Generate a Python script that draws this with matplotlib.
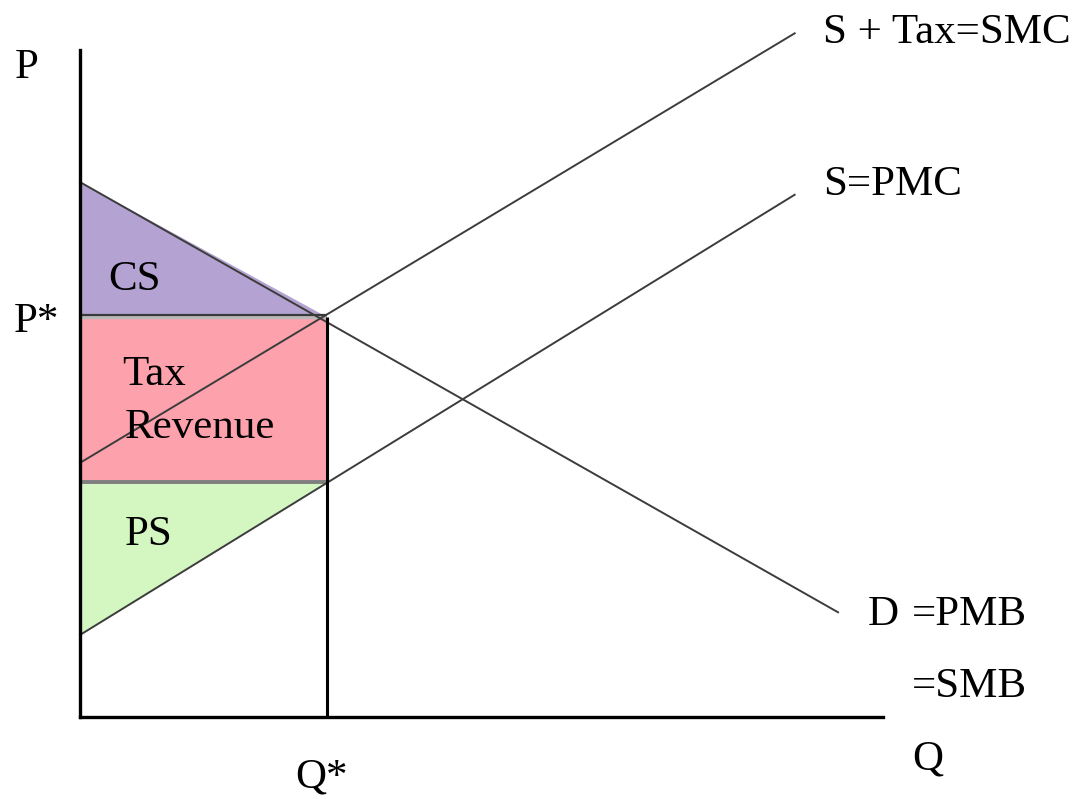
import matplotlib.pyplot as plt
from matplotlib.patches import Polygon

# Market with a per-unit tax: demand, private and social marginal cost
DEMAND_Q = [0.0, 9.44]
DEMAND_P = [8.02, 1.57]
SMC_Q = [0.0, 8.90]
SMC_P = [3.81, 10.25]
PMC_Q = [0.0, 8.90]
PMC_P = [1.23, 7.83]

Q_STAR = 3.07
P_STAR = 6.0
P_SELLER = 3.52

CS_COLOR = "#b4a3d2"
TAX_COLOR = "#fda2ad"
PS_COLOR = "#d4f7c1"
CURVE_COLOR = "#3c3c3c"

plt.rcParams["font.family"] = ["Liberation Serif", "DejaVu Serif"]

fig = plt.figure(figsize=(10.89, 7.99), dpi=100)
ax = fig.add_axes([80 / 1089, 82 / 799, 803 / 1089, 667 / 799])
ax.set_xlim(0, 10)
ax.set_ylim(0, 10)

# shaded surplus areas
ax.add_patch(Polygon([(0, DEMAND_P[0]), (Q_STAR, P_STAR), (0, P_STAR)],
                     closed=True, facecolor=CS_COLOR, edgecolor="none", zorder=1))
ax.add_patch(Polygon([(0, P_SELLER), (Q_STAR, P_SELLER), (Q_STAR, P_STAR), (0, P_STAR)],
                     closed=True, facecolor=TAX_COLOR, edgecolor="none", zorder=1))
ax.add_patch(Polygon([(0, PMC_P[0]), (Q_STAR, P_SELLER), (0, P_SELLER)],
                     closed=True, facecolor=PS_COLOR, edgecolor="none", zorder=1))

# curves
for qs, ps in [(DEMAND_Q, DEMAND_P), (SMC_Q, SMC_P), (PMC_Q, PMC_P)]:
    ax.plot(qs, ps, color=CURVE_COLOR, lw=1.4, clip_on=False, zorder=3)

# price and quantity guides
ax.plot([0, Q_STAR], [P_STAR, P_STAR], color="#b8b8b8", lw=3.2, zorder=2,
        solid_capstyle="butt")
ax.plot([0, Q_STAR], [P_STAR + 0.02, P_STAR + 0.02], color="#3a3a3a", lw=1.6,
        zorder=2, solid_capstyle="butt")
ax.plot([0, Q_STAR], [P_SELLER, P_SELLER], color="#7f7f7f", lw=2.8, zorder=2,
        solid_capstyle="butt")
ax.plot([Q_STAR, Q_STAR], [0, P_STAR], color="black", lw=2.2, zorder=4,
        solid_capstyle="butt")

# axes
for side in ["top", "right"]:
    ax.spines[side].set_visible(False)
for side in ["left", "bottom"]:
    ax.spines[side].set_linewidth(2.4)
    ax.spines[side].set_zorder(5)
ax.set_xticks([])
ax.set_yticks([])
ax.patch.set_alpha(0)

fs = 31
def label(x, y, s):
    ax.text(x, y, s, fontsize=fs, ha="left", va="baseline", clip_on=False)

label(-0.81, 9.58, "P")
label(-0.83, 5.77, "P*")
label(0.35, 6.40, "CS")
label(0.52, 4.98, "Tax")
label(0.56, 4.18, "Revenue")
label(0.56, 2.58, "PS")
label(9.25, 10.10, "S + Tax=SMC")
label(9.25, 7.83, "S=PMC")
label(9.81, 1.38, "D")
label(10.36, 1.38, "=PMB")
label(10.36, 0.30, "=SMB")
label(10.36, -0.79, "Q")
label(2.68, -1.05, "Q*")

fig.savefig("out.png", dpi=100)
